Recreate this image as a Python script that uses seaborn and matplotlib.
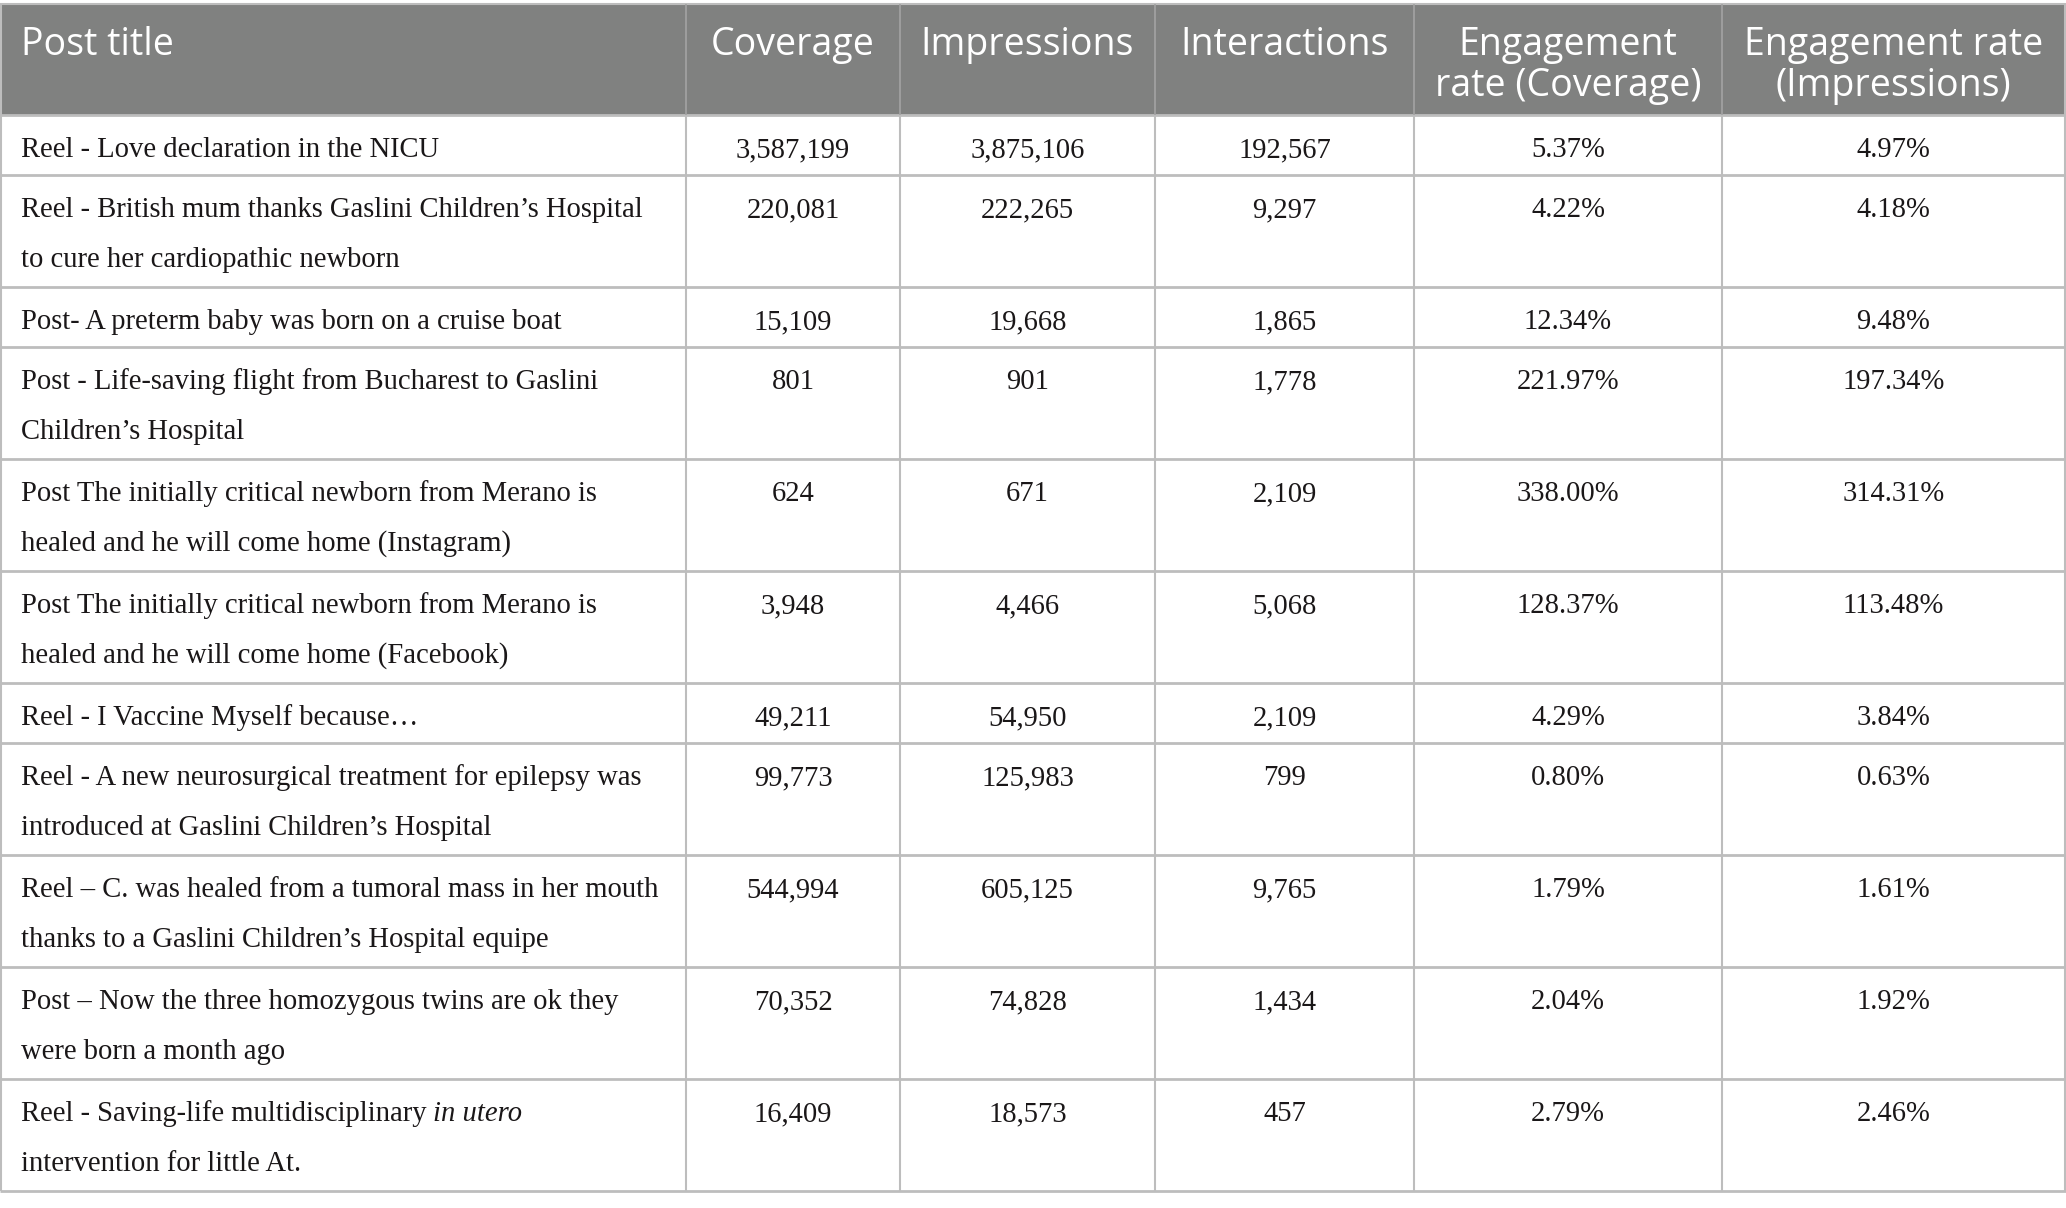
import matplotlib
matplotlib.use("Agg")
import matplotlib.pyplot as plt
import seaborn as sns
import pandas as pd

# --- table content ---
HEADERS = ["Post title", "Coverage", "Impressions", "Interactions",
           "Engagement\nrate (Coverage)", "Engagement rate\n(Impressions)"]

TITLES = [
    "Reel - Love declaration in the NICU",
    "Reel - British mum thanks Gaslini Children\u2019s Hospital\nto cure her cardiopathic newborn",
    "Post- A preterm baby was born on a cruise boat",
    "Post - Life-saving flight from Bucharest to Gaslini\nChildren\u2019s Hospital",
    "Post The initially critical newborn from Merano is\nhealed and he will come home (Instagram)",
    "Post The initially critical newborn from Merano is\nhealed and he will come home (Facebook)",
    "Reel - I Vaccine Myself because\u2026",
    "Reel - A new neurosurgical treatment for epilepsy was\nintroduced at Gaslini Children\u2019s Hospital",
    "Reel \u2013 C. was healed from a tumoral mass in her mouth\nthanks to a Gaslini Children\u2019s Hospital equipe",
    "Post \u2013 Now the three homozygous twins are ok they\nwere born a month ago",
    "Reel - Saving-life multidisciplinary *in utero*\nintervention for little At.",
]
COVERAGE = [3587199, 220081, 15109, 801, 624, 3948, 49211, 99773, 544994, 70352, 16409]
IMPRESSIONS = [3875106, 222265, 19668, 901, 671, 4466, 54950, 125983, 605125, 74828, 18573]
INTERACTIONS = [192567, 9297, 1865, 1778, 2109, 5068, 2109, 799, 9765, 1434, 457]
ENG_COV = [5.37, 4.22, 12.34, 221.97, 338.00, 128.37, 4.29, 0.80, 1.79, 2.04, 2.79]
ENG_IMP = [4.97, 4.18, 9.48, 197.34, 314.31, 113.48, 3.84, 0.63, 1.61, 1.92, 2.46]

df = pd.DataFrame({
    "title": TITLES,
    "coverage": [f"{v:,}" for v in COVERAGE],
    "impressions": [f"{v:,}" for v in IMPRESSIONS],
    "interactions": [f"{v:,}" for v in INTERACTIONS],
    "eng_cov": [f"{v:.2f}%" for v in ENG_COV],
    "eng_imp": [f"{v:.2f}%" for v in ENG_IMP],
})

# --- layout (pixels) ---
W, H = 2066, 1208
COL_EDGES = [0, 686, 900, 1155, 1414, 1722, 2065]
TOP, HEADER_H = 4, 111
ROW_H1, LINE_STEP = 60, 52
HEADER_BG = "#808180"
GRID = "#bdbdbd"
TXT = "#1a1718"

sns.set_theme(style="white")
plt.rcParams["font.family"] = ["Liberation Serif", "DejaVu Serif"]

fig = plt.figure(figsize=(W / 100, H / 100), dpi=100)
fig.patch.set_facecolor("white")
ax = fig.add_axes([0, 0, 1, 1])
ax.set_xlim(0, W)
ax.set_ylim(H, 0)
ax.axis("off")

# header band
ax.fill_between([0, W], TOP, TOP + HEADER_H, color=HEADER_BG, lw=0)
hdr_font = dict(family=["Open Sans", "DejaVu Sans"], fontsize=27, color="white")
for j, head in enumerate(HEADERS):
    for k, line in enumerate(head.split("\n")):
        y = TOP + 41 + k * 41
        if j == 0:
            ax.text(COL_EDGES[0] + 21, y, line, ha="left", va="center", **hdr_font)
        else:
            xc = (COL_EDGES[j] + COL_EDGES[j + 1]) / 2
            ax.text(xc, y, line, ha="center", va="center", **hdr_font)

# body rows
body_font = dict(fontsize=20.6, color=TXT)
renderer = fig.canvas.get_renderer()
y0 = TOP + HEADER_H
row_edges = [y0]
cols = ["coverage", "impressions", "interactions", "eng_cov", "eng_imp"]
for i, row in df.iterrows():
    lines = row["title"].split("\n")
    h = ROW_H1 + LINE_STEP * (len(lines) - 1)
    for k, line in enumerate(lines):
        y = y0 + 35 + k * 50
        if "*" in line:
            pre, ital, post = line.split("*")
            t = ax.text(21, y, pre.rstrip(), ha="left", va="center", **body_font)
            x1 = t.get_window_extent(renderer).x1 + 6
            ax.text(x1, y, ital, ha="left", va="center", style="italic", **body_font)
        else:
            ax.text(21, y, line, ha="left", va="center", **body_font)
    for j, c in enumerate(cols, start=1):
        xc = (COL_EDGES[j] + COL_EDGES[j + 1]) / 2
        ax.text(xc, y0 + 35, row[c], ha="center", va="center", **body_font)
    y0 += h
    row_edges.append(y0)

bottom = row_edges[-1]

# grid lines
ax.hlines(TOP, 0, W, color=GRID, lw=1.5)
for ye in row_edges:
    ax.hlines(ye, 0, W, color=GRID, lw=2)
for xe in COL_EDGES[1:-1]:
    ax.vlines(xe, TOP, TOP + HEADER_H, color="#a3a3a3", lw=1.2)
    ax.vlines(xe, TOP + HEADER_H, bottom, color=GRID, lw=1.5)
ax.vlines([0.8, COL_EDGES[-1]], TOP, bottom, color=GRID, lw=1.5)

fig.savefig("out.png", dpi=100, facecolor="white")
